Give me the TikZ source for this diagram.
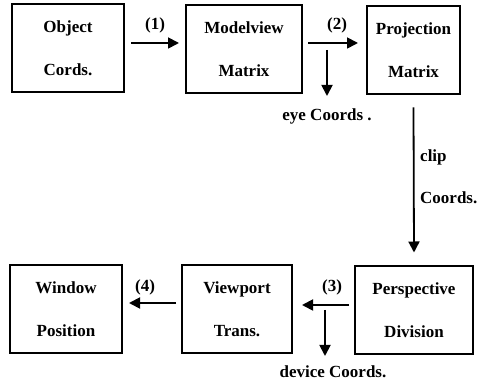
\documentclass[tikz,border=0pt]{standalone}
\usepackage{fontspec}
\setmainfont{Liberation Serif}
\usetikzlibrary{arrows.meta}
\begin{document}
\begin{tikzpicture}[x=1pt,y=-1pt,
  every node/.style={font=\bfseries\fontsize{17}{43}\selectfont},
  stage/.style={draw,line width=2pt,minimum height=88pt,align=center,inner sep=0pt},
  flow/.style={line width=1.8pt,-{Triangle[length=11pt,width=11pt]}},
  lbl/.style={inner sep=1pt}]
  \useasboundingbox (0,0) rectangle (480,387);
  % stage boxes
  \node[stage,minimum width=112pt] (obj)  at (68,48)    {Object\\Cords.};
  \node[stage,minimum width=116pt] (mv)   at (244,49)   {Modelview\\Matrix};
  \node[stage,minimum width=93pt]  (proj) at (413.5,50.5) {Projection\\Matrix};
  \node[stage,minimum width=118pt] (pd)   at (414,310.5) {Perspective\\Division};
  \node[stage,minimum width=110pt] (vp)   at (237,309.5) {Viewport\\Trans.};
  \node[stage,minimum width=112pt] (win)  at (66,309.5)  {Window\\Position};
  % branch points
  \coordinate (eyetop) at (327,50);
  \coordinate (eyeend) at (327,96);
  \coordinate (devtop) at (325,310);
  \coordinate (devend) at (325,356);
  % connectors
  \draw[flow] ([xshift=6pt,yshift=5pt]obj.east) -- ([xshift=-6pt,yshift=6pt]mv.west);
  \draw[flow] ([xshift=5pt,yshift=6pt]mv.east) -- ([xshift=-8pt,yshift=7.5pt]proj.west);
  \draw[flow] (eyetop) -- (eyeend);
  \draw[flow] ([yshift=-12pt]proj.south) -- ([yshift=13pt]pd.north);
  \draw[flow] ([xshift=-5pt,yshift=5.5pt]pd.west) -- ([xshift=9pt,yshift=4.5pt]vp.east);
  \draw[flow] (devtop) -- (devend);
  \draw[flow] ([xshift=-5pt,yshift=6.5pt]vp.west) -- ([xshift=6pt,yshift=6.5pt]win.east);
  % labels
  \node[lbl] (l1) at (155,25) {(1)};
  \node[lbl] (l2) at (337,25) {(2)};
  \node[lbl] (l3) at (332,287) {(3)};
  \node[lbl] (l4) at (145,287) {(4)};
  \node[lbl] (eye) at (327,116) {eye Coords .};
  \node[lbl,anchor=west] (clip) at (419,157) {clip};
  \node[lbl,anchor=west] (clipc) at (419,198) {Coords.};
  \node[lbl] (dev) at (333,372) {device Coords.};
\end{tikzpicture}
\end{document}
